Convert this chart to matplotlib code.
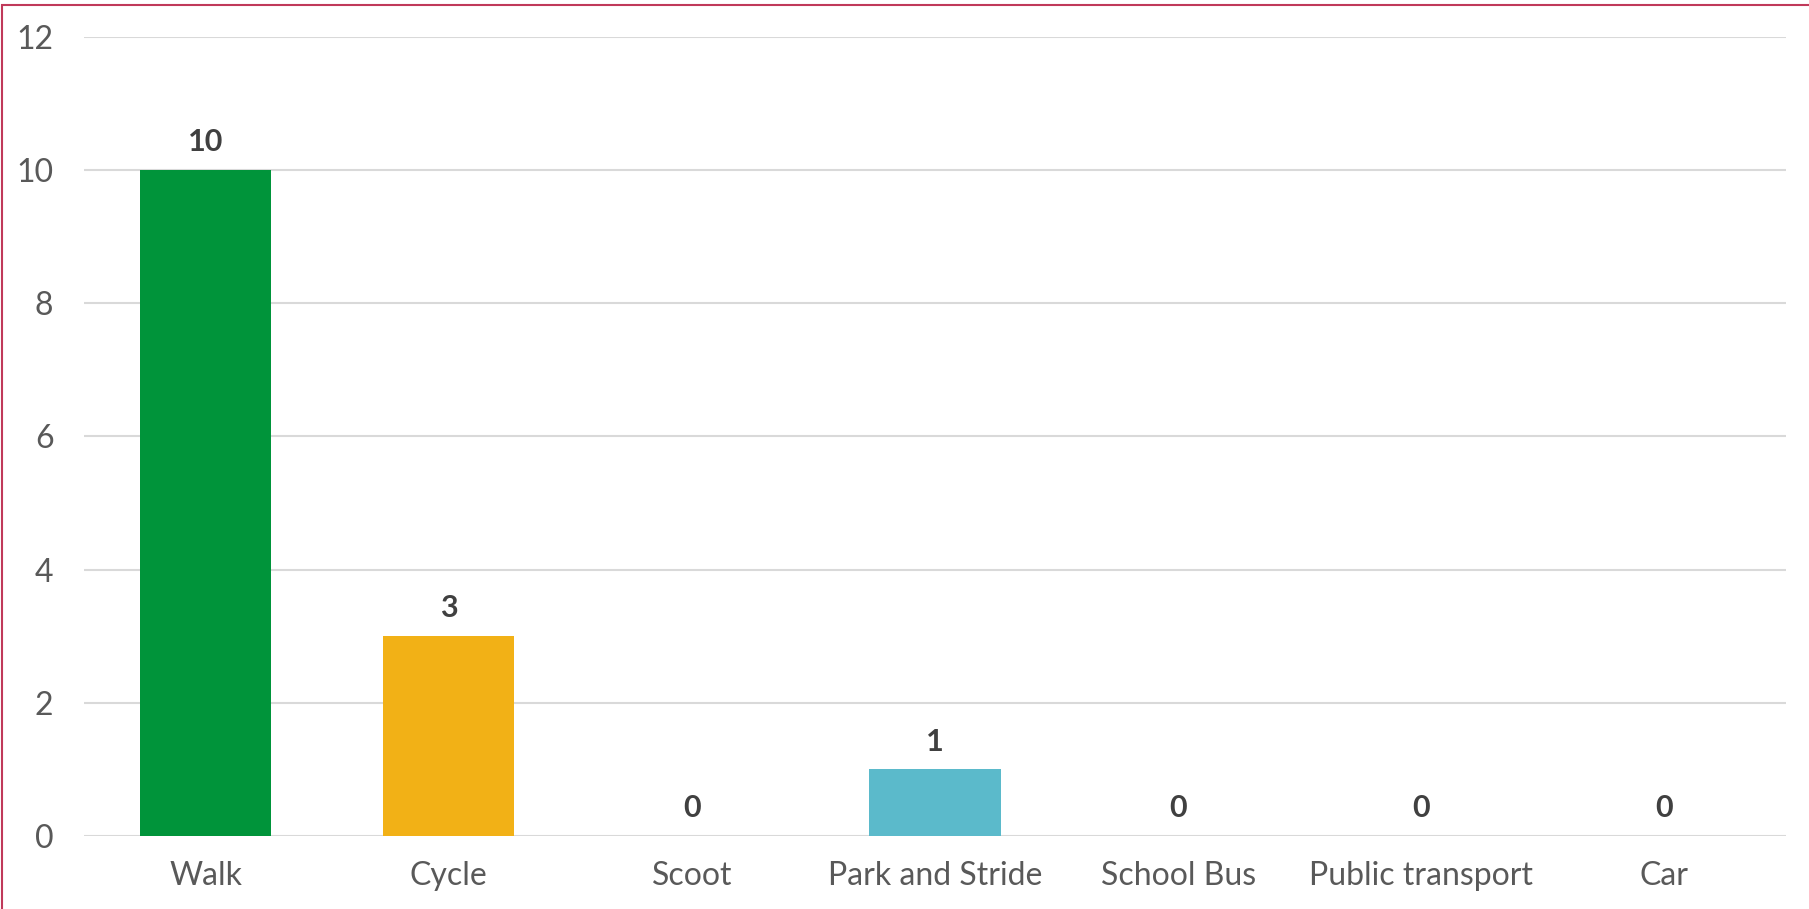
import matplotlib.pyplot as plt
from matplotlib.patches import Rectangle

# travel mode survey counts
modes = ['Walk', 'Cycle', 'Scoot', 'Park and Stride', 'School Bus', 'Public transport', 'Car']
counts = [10, 3, 0, 1, 0, 0, 0]
bar_colors = ['#00943A', '#F2B116', '#A5A5A5', '#5BBACB', '#A5A5A5', '#A5A5A5', '#A5A5A5']
yticks = [0, 2, 4, 6, 8, 10, 12]

plt.rcParams['font.family'] = ['Lato', 'DejaVu Sans']

fig = plt.figure(figsize=(18.09, 9.09), dpi=100)
ax = fig.add_axes([84/1809, 1 - 836/909, (1786-84)/1809, (836-37)/909])

x = range(len(modes))
ax.bar(x, counts, width=0.54, color=bar_colors, zorder=3)

for i, v in enumerate(counts):
    ax.annotate(str(v), (i, v), xytext=(0, 10), textcoords='offset points',
                ha='center', va='bottom', fontsize=22, fontweight='bold', color='#404040')

ax.set_xlim(-0.5, len(modes) - 0.5)
ax.set_ylim(0, 12)
ax.set_yticks(yticks)
ax.set_xticks(list(x))
ax.set_xticklabels(modes)
ax.tick_params(axis='both', length=0, labelsize=23, labelcolor='#595959')
ax.tick_params(axis='x', pad=18)
ax.tick_params(axis='y', pad=22)
ax.grid(axis='y', color='#D9D9D9', linewidth=1.5, zorder=0)
for s in ax.spines.values():
    s.set_visible(False)

# border round the chart area
fig.add_artist(Rectangle((2/1809, -0.01), 1.0, 1 - 5/909 + 0.01, transform=fig.transFigure,
                         fill=False, edgecolor='#C0395A', linewidth=1.5))

fig.savefig('out.png', dpi=100)
